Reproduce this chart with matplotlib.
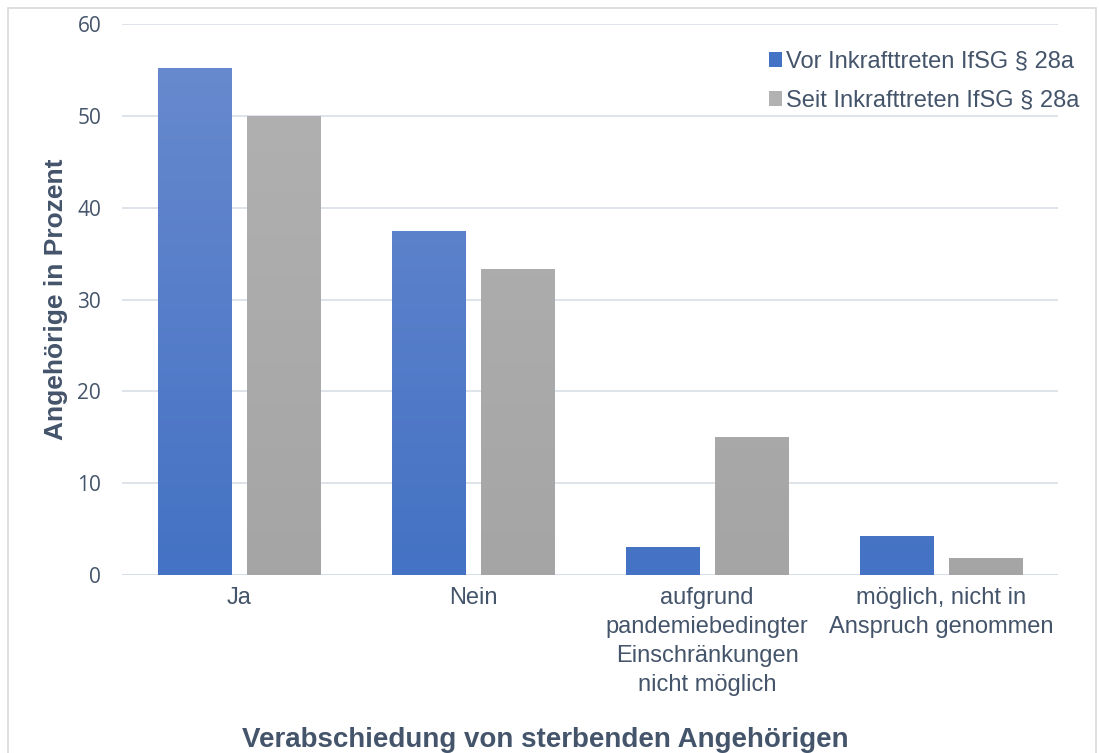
import numpy as np
import matplotlib
matplotlib.use("Agg")
import matplotlib.pyplot as plt
from matplotlib.patches import Rectangle, Patch
from matplotlib.colors import LinearSegmentedColormap

# data
categories = ["Ja", "Nein", "aufgrund\npandemiebedingter\nEinschränkungen\nnicht möglich",
              "möglich, nicht in\nAnspruch genommen"]
vor_values = [55.2, 37.5, 3.1, 4.3]
seit_values = [50.0, 33.3, 15.0, 1.8]
series_names = ["Vor Inkrafttreten IfSG § 28a", "Seit Inkrafttreten IfSG § 28a"]
y_ticks = [0, 10, 20, 30, 40, 50, 60]

text_col = "#44546A"
grid_col = "#D9DFE8"
blue_top, blue_bot = "#6A8BCF", "#4472C4"
grey_top, grey_bot = "#B2B2B2", "#A5A5A5"

plt.rcParams['font.family'] = ['Liberation Sans', 'DejaVu Sans']

fig = plt.figure(figsize=(10.99, 7.53), dpi=100)
ax = fig.add_axes([0.111, 0.2364, 0.8517, 0.7317])

# outer border of the chart area
fig.patches.append(Rectangle((8 / 1099, -0.01), 1088 / 1099, 1 - 8 / 753 + 0.01,
                             transform=fig.transFigure, fill=False,
                             edgecolor="#D9D9D9", linewidth=1.2))

x = np.arange(len(categories))
width = 0.312
offset = 0.19


def gradient_bars(bars, top, bot):
    # fill each bar with a vertical gradient (lighter at the top)
    cmap = LinearSegmentedColormap.from_list("g", [bot, top])
    grad = np.linspace(0, 1, 256).reshape(-1, 1)
    for b in bars:
        x0 = b.get_x()
        w = b.get_width()
        im = ax.imshow(grad, cmap=cmap, origin="lower", aspect="auto",
                       extent=[x0, x0 + w, 0, 60], zorder=3)
        im.set_clip_path(b)
        b.set_facecolor("none")


b1 = ax.bar(x - offset, vor_values, width, color=blue_bot, zorder=3, linewidth=0)
b2 = ax.bar(x + offset, seit_values, width, color=grey_bot, zorder=3, linewidth=0)
gradient_bars(b1, blue_top, blue_bot)
gradient_bars(b2, grey_top, grey_bot)

ax.set_xlim(-0.5, len(categories) - 0.5)
ax.set_ylim(0, 60)
ax.set_yticks(y_ticks)
ax.yaxis.grid(True, color=grid_col, linewidth=1.2, zorder=0)
ax.set_axisbelow(True)
for s in ax.spines.values():
    s.set_visible(False)
ax.axhline(0, color=grid_col, linewidth=1.5, zorder=2)

ax.set_xticks(x)
ax.set_xticklabels(categories, fontsize=17, color=text_col, linespacing=1.4)
ax.tick_params(axis="both", length=0)
ax.tick_params(axis="x", pad=9)
ax.tick_params(axis="y", pad=15)
for lbl in ax.get_yticklabels():
    lbl.set_fontfamily(['Open Sans', 'DejaVu Sans'])
    lbl.set_fontsize(15)
    lbl.set_color(text_col)

ax.set_ylabel("Angehörige in Prozent", fontsize=19, fontweight="bold", color=text_col, labelpad=7)
ax.set_xlabel("Verabschiedung von sterbenden Angehörigen", fontsize=20, fontweight="bold",
              color=text_col, va="center")
# label is centred on the whole chart, not only the plot area
ax.xaxis.set_label_coords((545 - 122) / 936, -(740 - 575) / 551)

handles = [Patch(facecolor=blue_bot), Patch(facecolor=grey_top)]
leg = ax.legend(handles, series_names, loc="upper right", bbox_to_anchor=(1.046, 0.99),
                frameon=False, fontsize=17, handlelength=0.55, handleheight=0.55,
                handletextpad=0.2, labelspacing=0.72, labelcolor=text_col)

fig.savefig("out.png", dpi=100)
